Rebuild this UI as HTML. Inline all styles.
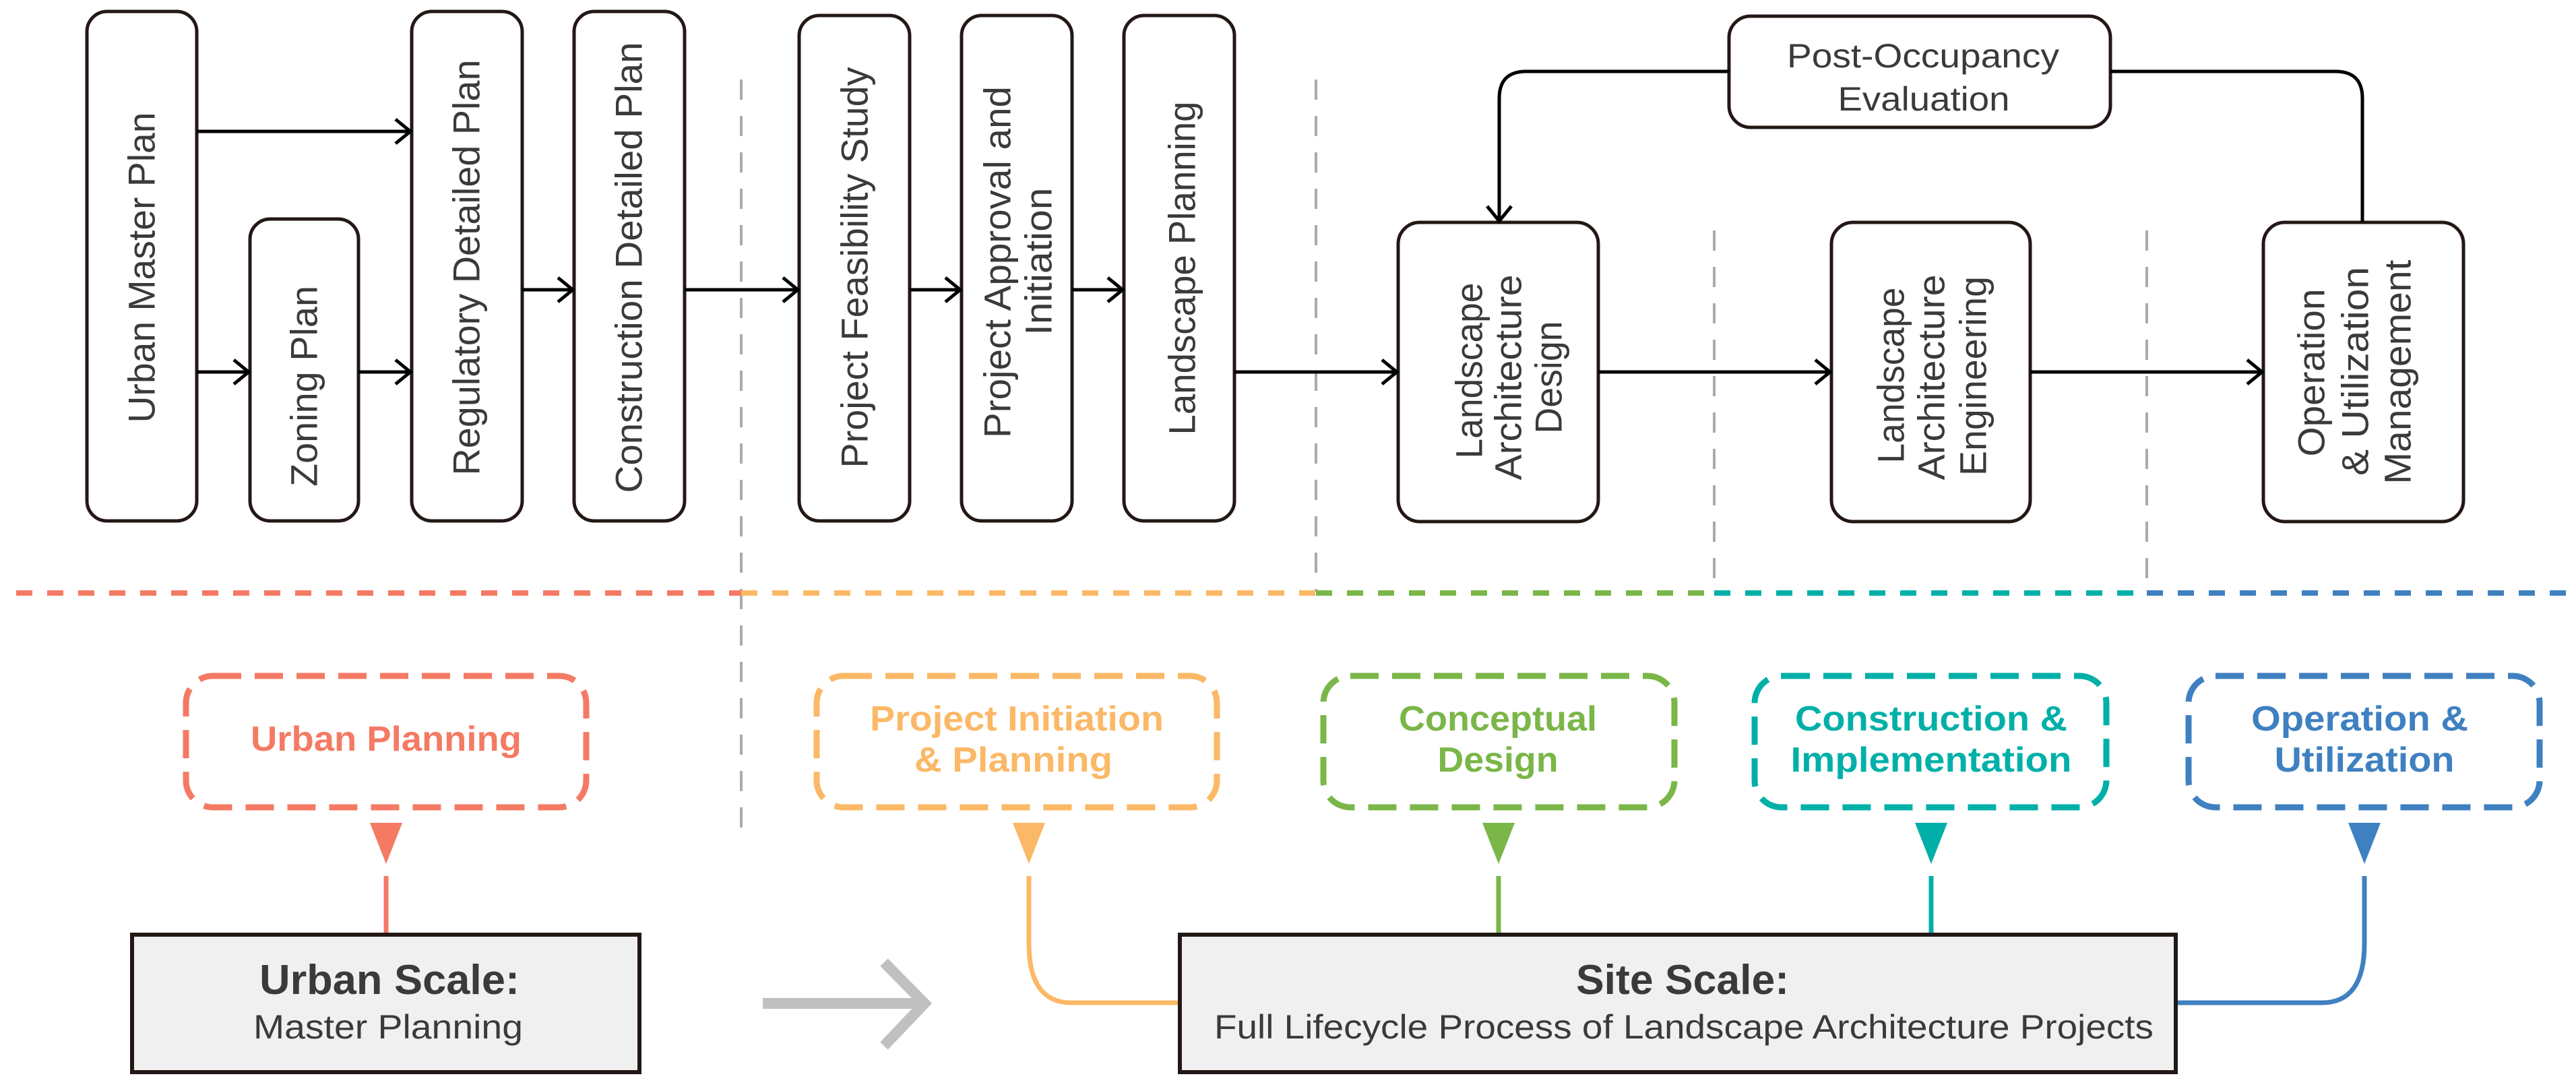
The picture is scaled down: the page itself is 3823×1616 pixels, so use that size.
<!DOCTYPE html>
<html><head><meta charset="utf-8"><style>
html,body{margin:0;padding:0;background:#fff;}
svg{display:block;}
text{font-family:"Liberation Sans",sans-serif;}
</style></head><body>
<svg width="3823" height="1616" viewBox="0 0 3823 1616" xmlns="http://www.w3.org/2000/svg">
<defs>
<marker id="ah" markerWidth="40" markerHeight="40" refX="30" refY="20" orient="auto" markerUnits="userSpaceOnUse">
<path d="M8,2 L30,20 L8,38" fill="none" stroke="#000" stroke-width="5"/>
</marker>
</defs>

<!-- gray dashed vertical separators -->
<g stroke="#aaa" stroke-width="4" stroke-dasharray="30,24" fill="none">
<line x1="1100" y1="118" x2="1100" y2="1230"/>
<line x1="1953" y1="118" x2="1953" y2="878"/>
<line x1="2544" y1="342" x2="2544" y2="878"/>
<line x1="3186" y1="342" x2="3186" y2="878"/>
</g>

<!-- colored dashed horizontal -->
<g stroke-width="8" stroke-dasharray="24,22" fill="none">
<line x1="24" y1="880" x2="1100" y2="880" stroke="#f47a64"/>
<line x1="1100" y1="880" x2="1953" y2="880" stroke="#fbb866"/>
<line x1="1953" y1="880" x2="2544" y2="880" stroke="#7ab648"/>
<line x1="2544" y1="880" x2="3186" y2="880" stroke="#00b0a8"/>
<line x1="3186" y1="880" x2="3823" y2="880" stroke="#3f80c0"/>
</g>

<!-- top boxes -->
<g fill="#fff" stroke="#231815" stroke-width="5">
<rect x="129" y="17" width="163" height="756" rx="30"/>
<rect x="371" y="325" width="161" height="448" rx="30"/>
<rect x="611" y="17" width="164" height="756" rx="30"/>
<rect x="852" y="17" width="164" height="756" rx="30"/>
<rect x="1186" y="23" width="164" height="750" rx="30"/>
<rect x="1427" y="23" width="164" height="750" rx="30"/>
<rect x="1668" y="23" width="164" height="750" rx="30"/>
<rect x="2075" y="330" width="297" height="444" rx="32"/>
<rect x="2718" y="330" width="295" height="444" rx="32"/>
<rect x="3359" y="330" width="297" height="444" rx="32"/>
<rect x="2566" y="24" width="566" height="165" rx="32"/>
</g>

<!-- arrows -->
<g stroke="#000" stroke-width="5" fill="none" marker-end="url(#ah)">
<line x1="292" y1="195" x2="609" y2="195"/>
<line x1="292" y1="552" x2="369" y2="552"/>
<line x1="532" y1="552" x2="609" y2="552"/>
<line x1="775" y1="430" x2="850" y2="430"/>
<line x1="1016" y1="430" x2="1184" y2="430"/>
<line x1="1350" y1="430" x2="1425" y2="430"/>
<line x1="1591" y1="430" x2="1666" y2="430"/>
<line x1="1832" y1="552" x2="2073" y2="552"/>
<line x1="2372" y1="552" x2="2716" y2="552"/>
<line x1="3013" y1="552" x2="3357" y2="552"/>
<path d="M2566,106 L2265,106 Q2225,106 2225,146 L2225,328"/>
</g>
<path d="M3132,106 L3466,106 Q3506,106 3506,146 L3506,330" stroke="#000" stroke-width="5" fill="none"/>

<!-- top vertical texts -->
<g fill="#3a3a3a" font-size="56" text-anchor="middle" dominant-baseline="central" lengthAdjust="spacingAndGlyphs">
<text transform="translate(210,397) rotate(-90)" textLength="461" lengthAdjust="spacingAndGlyphs">Urban Master Plan</text>
<text transform="translate(451,573) rotate(-90)" textLength="298" lengthAdjust="spacingAndGlyphs">Zoning Plan</text>
<text transform="translate(692,397) rotate(-90)" textLength="617" lengthAdjust="spacingAndGlyphs">Regulatory Detailed Plan</text>
<text transform="translate(933,397) rotate(-90)" textLength="669" lengthAdjust="spacingAndGlyphs">Construction Detailed Plan</text>
<text transform="translate(1268,397) rotate(-90)" textLength="595" lengthAdjust="spacingAndGlyphs">Project Feasibility Study</text>
<text transform="translate(1480,389) rotate(-90)" textLength="522" lengthAdjust="spacingAndGlyphs">Project Approval and</text>
<text transform="translate(1541,388) rotate(-90)" textLength="219" lengthAdjust="spacingAndGlyphs">Initiation</text>
<text transform="translate(1754,398) rotate(-90)" textLength="495" lengthAdjust="spacingAndGlyphs">Landscape Planning</text>

<text transform="translate(2180,550) rotate(-90)" textLength="261" lengthAdjust="spacingAndGlyphs">Landscape</text>
<text transform="translate(2238,560) rotate(-90)" textLength="305" lengthAdjust="spacingAndGlyphs">Architecture</text>
<text transform="translate(2298,560) rotate(-90)" textLength="167" lengthAdjust="spacingAndGlyphs">Design</text>

<text transform="translate(2806,557) rotate(-90)" textLength="261" lengthAdjust="spacingAndGlyphs">Landscape</text>
<text transform="translate(2866,560) rotate(-90)" textLength="305" lengthAdjust="spacingAndGlyphs">Architecture</text>
<text transform="translate(2928,558) rotate(-90)" textLength="296" lengthAdjust="spacingAndGlyphs">Engineering</text>

<text transform="translate(3430,553) rotate(-90)" textLength="249" lengthAdjust="spacingAndGlyphs">Operation</text>
<text transform="translate(3495,551) rotate(-90)" textLength="310" lengthAdjust="spacingAndGlyphs">&amp; Utilization</text>
<text transform="translate(3558,552) rotate(-90)" textLength="333" lengthAdjust="spacingAndGlyphs">Management</text>
</g>

<g fill="#3a3a3a" font-size="50" text-anchor="middle">
<text x="2854" y="100" textLength="404" lengthAdjust="spacingAndGlyphs">Post-Occupancy</text>
<text x="2855" y="164" textLength="255" lengthAdjust="spacingAndGlyphs">Evaluation</text>
</g>

<!-- bottom dashed boxes -->
<g fill="none" stroke-width="9" stroke-dasharray="42,20">
<rect x="276" y="1003" width="594" height="195" rx="40" stroke="#f47a64"/>
<rect x="1212" y="1003" width="594" height="195" rx="40" stroke="#fbb866"/>
<rect x="1964" y="1003" width="521" height="195" rx="40" stroke="#7ab648"/>
<rect x="2604" y="1003" width="522" height="195" rx="40" stroke="#00b0a8"/>
<rect x="3248" y="1003" width="521" height="195" rx="40" stroke="#3f80c0"/>
</g>

<g font-size="52" font-weight="bold" text-anchor="middle">
<text x="573" y="1114" fill="#f47a64" textLength="402" lengthAdjust="spacingAndGlyphs">Urban Planning</text>
<text x="1509" y="1084" fill="#fbb866" textLength="436" lengthAdjust="spacingAndGlyphs">Project Initiation</text>
<text x="1504" y="1145" fill="#fbb866" textLength="294" lengthAdjust="spacingAndGlyphs">&amp; Planning</text>
<text x="2223" y="1084" fill="#7ab648" textLength="294" lengthAdjust="spacingAndGlyphs">Conceptual</text>
<text x="2223" y="1145" fill="#7ab648" textLength="179" lengthAdjust="spacingAndGlyphs">Design</text>
<text x="2866" y="1084" fill="#00b0a8" textLength="404" lengthAdjust="spacingAndGlyphs">Construction &amp;</text>
<text x="2866" y="1145" fill="#00b0a8" textLength="417" lengthAdjust="spacingAndGlyphs">Implementation</text>
<text x="3502" y="1084" fill="#3f80c0" textLength="322" lengthAdjust="spacingAndGlyphs">Operation &amp;</text>
<text x="3509" y="1145" fill="#3f80c0" textLength="267" lengthAdjust="spacingAndGlyphs">Utilization</text>
</g>

<!-- triangles -->
<polygon points="549,1221 597,1221 573,1282" fill="#f47a64"/>
<polygon points="1503,1221 1551,1221 1527,1282" fill="#fbb866"/>
<polygon points="2200,1221 2248,1221 2224,1282" fill="#7ab648"/>
<polygon points="2842,1221 2890,1221 2866,1282" fill="#00b0a8"/>
<polygon points="3485,1221 3533,1221 3509,1282" fill="#3f80c0"/>

<!-- connectors -->
<g fill="none" stroke-width="7">
<line x1="573" y1="1300" x2="573" y2="1387" stroke="#f47a64"/>
<line x1="2224" y1="1300" x2="2224" y2="1387" stroke="#7ab648"/>
<line x1="2866" y1="1300" x2="2866" y2="1387" stroke="#00b0a8"/>
<path d="M1527,1300 L1527,1400 Q1527,1488 1590,1488 L1752,1488" stroke="#fbb866"/>
<path d="M3509,1300 L3509,1400 Q3509,1488 3446,1488 L3228,1488" stroke="#3f80c0"/>
</g>

<!-- gray arrow -->
<g stroke="#c0c0c0" stroke-width="16" fill="none">
<line x1="1132" y1="1489" x2="1372" y2="1489"/>
<path d="M1312,1428 L1372,1489 L1312,1552"/>
</g>

<!-- bottom boxes -->
<rect x="196" y="1387" width="753" height="204" fill="#f0f0f0" stroke="#231815" stroke-width="6"/>
<rect x="1751" y="1387" width="1478" height="204" fill="#f0f0f0" stroke="#231815" stroke-width="6"/>

<g fill="#3a3a3a" text-anchor="middle">
<text x="578" y="1475" font-size="62" font-weight="bold" textLength="386" lengthAdjust="spacingAndGlyphs">Urban Scale:</text>
<text x="576" y="1541" font-size="50" textLength="400" lengthAdjust="spacingAndGlyphs">Master Planning</text>
<text x="2497" y="1475" font-size="62" font-weight="bold" textLength="316" lengthAdjust="spacingAndGlyphs">Site Scale:</text>
<text x="2499" y="1541" font-size="50" textLength="1394" lengthAdjust="spacingAndGlyphs">Full Lifecycle Process of Landscape Architecture Projects</text>
</g>
</svg>
</body></html>
